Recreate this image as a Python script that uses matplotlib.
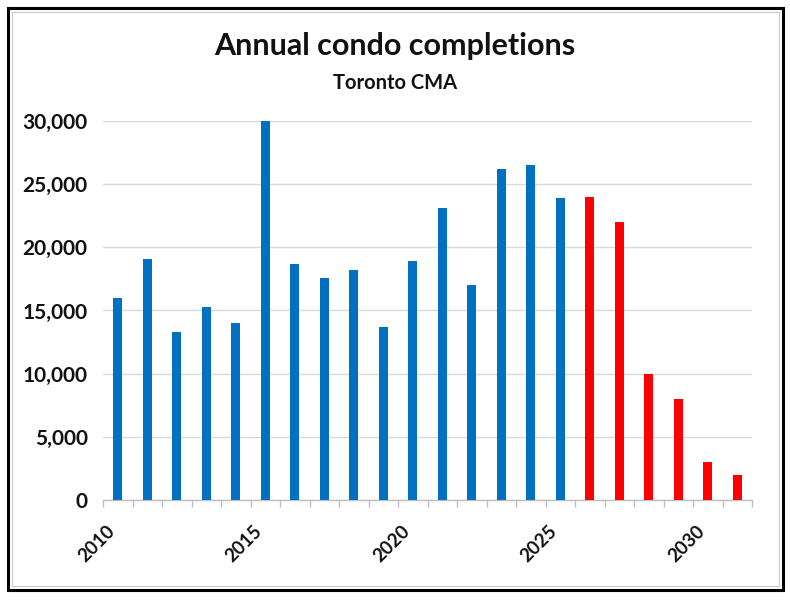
import matplotlib.pyplot as plt
import matplotlib.transforms as mtransforms
from matplotlib.patches import Rectangle
from matplotlib.ticker import FuncFormatter, MultipleLocator

plt.rcParams['font.family'] = ['Lato', 'DejaVu Sans']

# data
years = list(range(2010, 2032))
completions = [16000, 19100, 13300, 15300, 14000, 30000, 18700, 17600, 18200, 13700, 18900,
               23100, 17000, 26200, 26500, 23900, 24000, 22000, 10000, 8000, 3000, 2000]
first_forecast_year = 2026
blue = '#0070C0'
red = '#FF0000'

fig = plt.figure(figsize=(7.9, 6.0), dpi=100)
ax = fig.add_axes([0.1304, 0.1667, 0.8215, 0.6317])

x = list(range(len(years)))
colors = [blue if y < first_forecast_year else red for y in years]
ax.bar(x, completions, width=0.32, color=colors, zorder=3)

ax.set_xlim(-0.5, len(years) - 0.5)
ax.set_ylim(0, 30000)

# y axis
ax.yaxis.set_major_locator(MultipleLocator(5000))
ax.yaxis.set_major_formatter(FuncFormatter(lambda v, p: f"{int(v):,}"))
ax.grid(axis='y', color='#D9D9D9', linewidth=1.0, zorder=0)
ax.tick_params(axis='y', length=0, pad=11, labelsize=15, labelcolor='#111111')
for lab in ax.get_yticklabels():
    lab.set_fontweight('bold')

# x axis: labels every 5 years, tick marks between categories
label_pos = [i for i, y in enumerate(years) if y % 5 == 0]
ax.set_xticks(label_pos)
ax.set_xticklabels([str(years[i]) for i in label_pos], rotation=45, ha='right',
                   fontweight='bold', fontsize=13.5, color='#111111')
shift = mtransforms.ScaledTranslation(5 / 100, 0, fig.dpi_scale_trans)
for lab in ax.get_xticklabels():
    lab.set_transform(lab.get_transform() + shift)
ax.set_xticks([i - 0.5 for i in range(len(years) + 1)], minor=True)
ax.tick_params(axis='x', which='major', length=0, pad=16)
ax.tick_params(axis='x', which='minor', length=5, color='#BFBFBF', width=1)

for side in ['top', 'right', 'left']:
    ax.spines[side].set_visible(False)
ax.spines['bottom'].set_color('#BFBFBF')
ax.spines['bottom'].set_linewidth(1.0)

# titles
fig.text(0.5, 1 - 46 / 600, 'Annual condo completions', ha='center', va='center',
         fontsize=22, fontweight='bold', color='#111111')
fig.text(0.5, 1 - 83 / 600, 'Toronto CMA', ha='center', va='center',
         fontsize=14.5, fontweight='bold', color='#111111')

# outer frame
fig.patches.append(Rectangle((8 / 790, 10 / 600), 775 / 790, 582 / 600, transform=fig.transFigure,
                             fill=False, edgecolor='black', linewidth=2.2))
fig.patches.append(Rectangle((12 / 790, 14 / 600), 767 / 790, 574 / 600, transform=fig.transFigure,
                             fill=False, edgecolor='#C8C8C8', linewidth=0.8))

fig.savefig('out.png', dpi=100)
